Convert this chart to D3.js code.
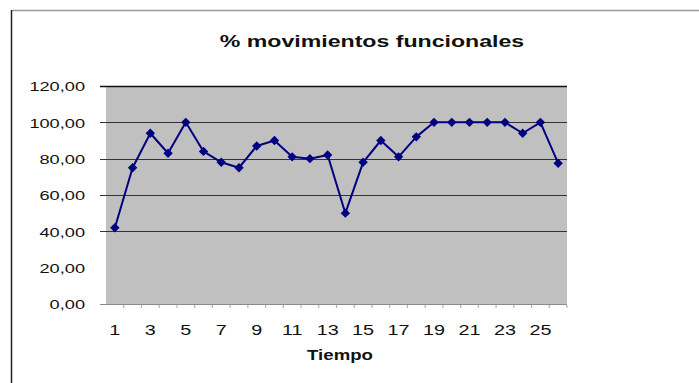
<!DOCTYPE html>
<html>
<head>
<meta charset="utf-8">
<script src="https://cdn.jsdelivr.net/npm/d3@7/dist/d3.min.js"></script>
<style>
  html, body { margin: 0; padding: 0; background: #fff; }
  svg { display: block; font-family: "Liberation Sans", Arial, sans-serif; }
</style>
</head>
<body>
<svg id="chart" width="699" height="383"></svg>
<script>
// Session number (Tiempo) and the share of functional movements per session
const categories = d3.range(1, 27).map(String);
const values = [42, 75, 94, 83, 100, 84, 78, 75, 87, 90, 81, 80, 82,
                50, 78, 90, 81, 92, 100, 100, 100, 100, 100, 94, 100, 77.5];
const yTicks = [0, 20, 40, 60, 80, 100, 120];
const gridValues = [40, 60, 80, 100, 120];
const xTickLabels = ["1", "3", "5", "7", "9", "11", "13", "15", "17", "19", "21", "23", "25"];
const titleText = "% movimientos funcionales";
const xTitle = "Tiempo";

const svg = d3.select("#chart");
const W = 699, H = 383;
const plot = { left: 106, right: 567, top: 86, bottom: 304 };
const stretch = 1.36; // wide lettering of the chart text

const x = d3.scaleBand().domain(categories).range([plot.left, plot.right]);
const y = d3.scaleLinear().domain([0, 120]).range([plot.bottom, plot.top]);
const cx = c => x(c) + x.bandwidth() / 2;

const es = d3.formatLocale({ decimal: ",", thousands: ".", grouping: [3], currency: ["", ""] });
const fmt = es.format(".2f");

svg.append("rect").attr("width", W).attr("height", H).attr("fill", "#fff");

// chart frame: gray top edge, dark left edge
svg.append("line").attr("x1", 11.5).attr("x2", W).attr("y1", 10.5).attr("y2", 10.5)
  .attr("stroke", "#9a9a9a").attr("stroke-width", 1.5);
svg.append("line").attr("x1", 11.5).attr("x2", 11.5).attr("y1", 10).attr("y2", H)
  .attr("stroke", "#222").attr("stroke-width", 1.5);

// plot area
svg.append("rect")
  .attr("x", plot.left).attr("y", plot.top)
  .attr("width", plot.right - plot.left).attr("height", plot.bottom - plot.top)
  .attr("fill", "#c0c0c0");

// gridlines
svg.append("g").selectAll("line").data(gridValues).join("line")
  .attr("x1", plot.left - 6).attr("x2", plot.right)
  .attr("y1", d => Math.round(y(d)) + 0.5).attr("y2", d => Math.round(y(d)) + 0.5)
  .attr("stroke", d => d === 120 ? "#111" : "#333").attr("stroke-width", d => d === 120 ? 1.5 : 1);

// y axis labels
const yAxis = svg.append("g")
  .attr("transform", `translate(${plot.left},0)`)
  .call(d3.axisLeft(y).tickValues(yTicks).tickFormat(fmt).tickSize(0));
yAxis.select(".domain").remove();
yAxis.selectAll("text")
  .attr("x", 0).attr("dy", "0.36em")
  .attr("transform", `translate(-21,0) scale(1.4,1)`)
  .attr("font-size", 13).attr("fill", "#111")
  .attr("font-family", "Liberation Sans, Arial, sans-serif");

// x axis baseline and category ticks
svg.append("line")
  .attr("x1", plot.left - 6).attr("x2", plot.right)
  .attr("y1", plot.bottom + 0.5).attr("y2", plot.bottom + 0.5)
  .attr("stroke", "#8a8a8a").attr("stroke-width", 1);
svg.append("g").selectAll("line").data(categories.slice(1).concat(["end"])).join("line")
  .attr("x1", d => d === "end" ? plot.right : x(d))
  .attr("x2", d => d === "end" ? plot.right : x(d))
  .attr("y1", plot.bottom + 1).attr("y2", plot.bottom + 4)
  .attr("stroke", "#b5b5b5").attr("stroke-width", 1.2);

const xAxis = svg.append("g")
  .attr("transform", `translate(0,${plot.bottom})`)
  .call(d3.axisBottom(x).tickValues(xTickLabels).tickSize(0));
xAxis.select(".domain").remove();
xAxis.selectAll("text")
  .attr("y", 0).attr("dy", 0)
  .attr("transform", "translate(0,31) scale(1.32,1)")
  .attr("font-size", 15).attr("fill", "#111")
  .attr("font-family", "Liberation Sans, Arial, sans-serif");

// series line and diamond markers
const line = d3.line().x((d, i) => cx(categories[i])).y(d => y(d));
svg.append("path").datum(values)
  .attr("d", line)
  .attr("fill", "none").attr("stroke", "#000080").attr("stroke-width", 2)
  .attr("stroke-linejoin", "round");

const diamond = d3.symbol().type(d3.symbolDiamond2).size(56);
svg.append("g").selectAll("path").data(values).join("path")
  .attr("d", diamond)
  .attr("transform", (d, i) => `translate(${cx(categories[i])},${y(d)})`)
  .attr("fill", "#000080");

// titles
svg.append("text")
  .attr("transform", `translate(372,47) scale(${stretch},1)`)
  .attr("text-anchor", "middle")
  .attr("font-size", 17).attr("font-weight", "bold").attr("fill", "#111")
  .text(titleText);

svg.append("text")
  .attr("transform", `translate(340,360) scale(1.33,1)`)
  .attr("text-anchor", "middle")
  .attr("font-size", 14).attr("font-weight", "bold").attr("fill", "#111")
  .text(xTitle);
</script>
</body>
</html>
